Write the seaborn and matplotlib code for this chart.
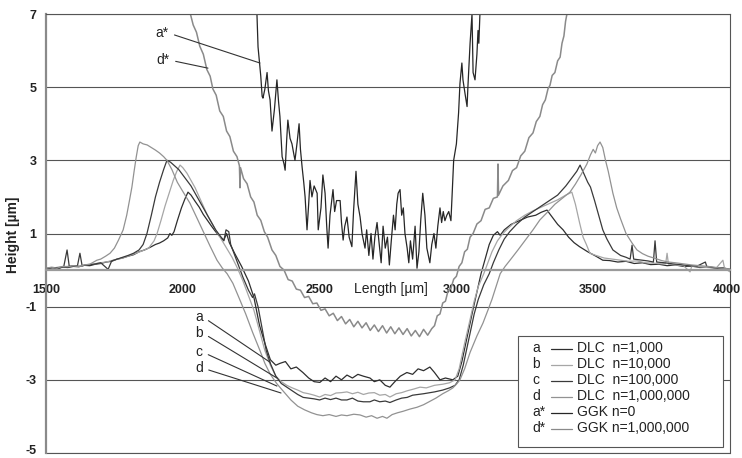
import matplotlib
matplotlib.use("Agg")
import matplotlib.pyplot as plt
import matplotlib.transforms as mtransforms
from matplotlib.patches import Rectangle
import seaborn as sns

# ---------------------------------------------------------------- data
x_ticks = [1500, 2000, 2500, 3000, 3500, 4000]
y_ticks = [-5, -3, -1, 1, 3, 5, 7]

# DLC n=1,000
dlc_a_x = [1500, 1520, 1540, 1560, 1580, 1600, 1620, 1640, 1660, 1680, 1700, 1720, 1740, 1760,
           1780, 1800, 1820, 1840, 1860, 1880, 1900, 1915, 1930, 1945, 1953, 1960, 1968, 1980,
           1995, 2008, 2019, 2030, 2045, 2060, 2075, 2090, 2105, 2120, 2135, 2150, 2160, 2170,
           2190, 2215, 2240, 2260, 2280, 2300, 2320, 2340, 2355, 2375, 2395, 2415, 2439, 2460,
           2480, 2501, 2520, 2540, 2560, 2580, 2600, 2620, 2640, 2660, 2684, 2700, 2720, 2740,
           2757, 2775, 2795, 2819, 2840, 2860, 2880, 2903, 2920, 2940, 2960, 2987, 3005, 3020,
           3040, 3060, 3075, 3090, 3105, 3120, 3135, 3150, 3160, 3175, 3200, 3230, 3260, 3290,
           3310, 3331, 3350, 3370, 3390, 3410, 3430, 3450, 3480, 3510, 3535, 3560, 3590, 3620,
           3650, 3680, 3710, 3740, 3770, 3800, 3830, 3860, 3890, 3920, 3950, 3975, 4000]
dlc_a_y = [0.04, 0.06, 0.03, 0.08, 0.07, 0.10, 0.09, 0.13, 0.12, 0.16, 0.18, 0.22, 0.24, 0.30,
           0.33, 0.38, 0.42, 0.50, 0.55, 0.62, 0.70, 0.74, 0.80, 0.88, 1.00, 0.95, 1.05, 1.35,
           1.70, 1.95, 2.13, 2.05, 1.88, 1.72, 1.52, 1.36, 1.20, 1.05, 0.92, 0.82, 1.00, 0.75,
           0.45, 0.10, -0.30, -0.75, -1.50, -2.00, -2.45, -2.60, -2.55, -2.50, -2.70, -2.65, -2.80, -2.95,
           -3.05, -3.07, -2.95, -3.05, -2.90, -3.00, -2.87, -2.95, -2.85, -2.90, -2.95, -3.05, -3.00, -3.15,
           -3.20, -3.05, -2.90, -2.80, -2.85, -2.70, -2.75, -2.65, -2.80, -3.00, -2.95, -3.00, -2.90, -2.50,
           -1.80, -1.10, -0.60, -0.10, 0.30, 0.70, 0.95, 1.05, 0.95, 1.10, 1.25, 1.35, 1.45, 1.50,
           1.58, 1.64, 1.45, 1.25, 1.10, 0.90, 0.75, 0.64, 0.50, 0.38, 0.27, 0.26, 0.22, 0.24,
           0.18, 0.20, 0.15, 0.16, 0.12, 0.14, 0.10, 0.11, 0.07, 0.08, 0.05, 0.06, 0.02]

# DLC n=10,000
dlc_b_x = [1500, 1525, 1550, 1577, 1600, 1625, 1650, 1675, 1700, 1725, 1750, 1775, 1800, 1825,
           1850, 1875, 1895, 1906, 1920, 1935, 1950, 1965, 1978, 1990, 2000, 2015, 2030, 2045,
           2060, 2075, 2090, 2105, 2120, 2140, 2160, 2180, 2200, 2220, 2240, 2260, 2280, 2300,
           2320, 2340, 2360, 2380, 2400, 2420, 2440, 2460, 2480, 2500, 2520, 2540, 2560, 2580,
           2600, 2620, 2640, 2660, 2680, 2700, 2720, 2740, 2757, 2780, 2800, 2820, 2845, 2867,
           2890, 2920, 2950, 2975, 2995, 3010, 3030, 3050, 3065, 3080, 3100, 3115, 3130, 3150,
           3170, 3190, 3220, 3250, 3280, 3310, 3340, 3370, 3400, 3422, 3435, 3450, 3463, 3475,
           3488, 3510, 3540, 3570, 3600, 3630, 3660, 3690, 3720, 3750, 3765, 3770, 3775, 3800,
           3830, 3854, 3860, 3890, 3920, 3950, 3974, 3980, 4000]
dlc_b_y = [0.06, 0.05, 0.09, 0.10, 0.12, 0.11, 0.15, 0.17, 0.20, 0.23, 0.28, 0.32, 0.38, 0.45,
           0.52, 0.60, 0.80, 1.00, 1.35, 1.75, 2.10, 2.45, 2.70, 2.87, 2.80, 2.65, 2.45, 2.25,
           2.00, 1.75, 1.50, 1.30, 1.10, 0.85, 0.60, 0.35, 0.05, -0.30, -0.70, -1.10, -1.65, -2.20,
           -2.60, -2.90, -3.05, -3.15, -3.22, -3.28, -3.35, -3.38, -3.42, -3.47, -3.40, -3.43, -3.36, -3.35,
           -3.33, -3.38, -3.34, -3.40, -3.36, -3.35, -3.42, -3.40, -3.47, -3.38, -3.35, -3.30, -3.25, -3.20,
           -3.22, -3.15, -3.12, -3.08, -3.00, -2.70, -2.00, -1.35, -0.85, -0.45, -0.10, 0.20, 0.50, 0.80,
           1.00, 1.15, 1.35, 1.50, 1.62, 1.72, 1.82, 1.92, 2.05, 2.13, 1.80, 1.30, 0.90, 0.70,
           0.46, 0.40, 0.33, 0.30, 0.27, 0.24, 0.25, 0.20, 0.19, 0.17, 0.18, 0.46, 0.16, 0.14,
           0.12, -0.05, 0.10, 0.09, 0.07, 0.06, 0.27, 0.05, -0.05]

# DLC n=100,000
dlc_c_x = [1500, 1525, 1550, 1565, 1577, 1585, 1600, 1615, 1624, 1632, 1650, 1675, 1700, 1727,
           1740, 1760, 1780, 1800, 1820, 1840, 1855, 1869, 1885, 1900, 1915, 1930, 1942, 1955,
           1970, 1985, 2000, 2015, 2030, 2045, 2060, 2075, 2090, 2105, 2120, 2135, 2150, 2158,
           2168, 2175, 2190, 2205, 2220, 2240, 2255, 2262, 2275, 2290, 2305, 2320, 2340, 2360,
           2380, 2400, 2420, 2440, 2460, 2480, 2500, 2520, 2540, 2560, 2580, 2600, 2620, 2640,
           2660, 2684, 2700, 2720, 2740, 2757, 2780, 2800, 2820, 2840, 2860, 2880, 2903, 2920,
           2950, 2975, 2995, 3010, 3025, 3045, 3065, 3080, 3100, 3120, 3135, 3155, 3175, 3195,
           3220, 3250, 3280, 3310, 3340, 3370, 3400, 3420, 3440, 3452, 3465, 3480, 3490, 3505,
           3520, 3535, 3550, 3572, 3600, 3620, 3635, 3642, 3648, 3670, 3700, 3720, 3726, 3732,
           3760, 3790, 3820, 3850, 3880, 3910, 3915, 3940, 3970, 4000]
dlc_c_y = [0.03, 0.07, 0.06, 0.10, 0.55, 0.10, 0.11, 0.12, 0.46, 0.12, 0.14, 0.16, 0.20, 0.02,
           0.25, 0.30, 0.35, 0.40, 0.46, 0.55, 0.70, 1.00, 1.50, 2.00, 2.40, 2.75, 3.00, 2.95,
           2.85, 2.75, 2.60, 2.45, 2.30, 2.10, 1.90, 1.70, 1.50, 1.30, 1.10, 0.95, 0.80, 1.10,
           1.05, 0.70, 0.40, 0.10, -0.20, -0.55, -0.75, -0.65, -1.00, -1.60, -2.20, -2.55, -2.90, -3.10,
           -3.20, -3.30, -3.40, -3.48, -3.50, -3.52, -3.55, -3.50, -3.54, -3.50, -3.55, -3.55, -3.50, -3.58,
           -3.60, -3.60, -3.55, -3.60, -3.58, -3.62, -3.55, -3.50, -3.48, -3.42, -3.40, -3.38, -3.35, -3.33,
           -3.28, -3.22, -3.15, -3.00, -2.60, -1.90, -1.20, -0.80, -0.40, -0.10, 0.20, 0.55, 0.85, 1.05,
           1.25, 1.45, 1.60, 1.75, 1.90, 2.05, 2.30, 2.50, 2.70, 2.87, 2.65, 2.40, 2.27, 1.90,
           1.50, 1.10, 0.85, 0.55, 0.40, 0.35, 0.30, 0.68, 0.30, 0.28, 0.25, 0.22, 0.80, 0.22,
           0.20, 0.17, 0.15, 0.12, 0.11, 0.22, 0.10, 0.07, 0.06, 0.00]

# DLC n=1,000,000
dlc_d_x = [1500, 1520, 1540, 1560, 1580, 1600, 1620, 1640, 1660, 1686, 1700, 1718, 1734, 1750,
           1765, 1782, 1795, 1805, 1814, 1822, 1830, 1837, 1843, 1855, 1870, 1885, 1900, 1915,
           1930, 1942, 1960, 1980, 2000, 2026, 2050, 2075, 2100, 2125, 2145, 2162, 2183, 2205,
           2230, 2255, 2282, 2300, 2320, 2343, 2366, 2395, 2420, 2445, 2470, 2490, 2512, 2535,
           2560, 2580, 2600, 2625, 2648, 2670, 2690, 2710, 2730, 2746, 2765, 2785, 2805, 2830,
           2856, 2880, 2900, 2925, 2950, 2970, 2987, 3000, 3013, 3030, 3050, 3075, 3097, 3115,
           3130, 3145, 3160, 3178, 3196, 3225, 3250, 3280, 3305, 3335, 3360, 3390, 3415, 3435,
           3455, 3477, 3490, 3500, 3508, 3516, 3525, 3535, 3545, 3555, 3572, 3586, 3600, 3620,
           3642, 3660, 3680, 3700, 3726, 3750, 3775, 3800, 3830, 3860, 3890, 3920, 3950, 3975, 4000]
dlc_d_y = [0.05, 0.08, 0.05, 0.10, 0.09, 0.12, 0.10, 0.14, 0.16, 0.27, 0.30, 0.38, 0.46, 0.60,
           0.82, 1.10, 1.50, 1.90, 2.27, 2.70, 3.10, 3.40, 3.50, 3.45, 3.42, 3.35, 3.28, 3.20,
           3.10, 3.00, 2.75, 2.40, 2.15, 1.83, 1.45, 1.05, 0.65, 0.27, 0.05, -0.10, -0.36, -0.75,
           -1.20, -1.70, -2.20, -2.55, -2.85, -3.10, -3.30, -3.55, -3.72, -3.82, -3.90, -3.95, -3.98, -3.95,
           -4.00, -3.96, -3.98, -3.94, -3.96, -4.02, -3.98, -4.05, -4.00, -4.05, -3.95, -3.90, -3.86, -3.80,
           -3.75, -3.68, -3.60, -3.50, -3.38, -3.30, -3.22, -3.12, -3.00, -2.70, -2.25, -1.80, -1.45, -1.10,
           -0.80, -0.45, -0.10, 0.10, 0.27, 0.55, 0.80, 1.10, 1.37, 1.60, 1.80, 1.98, 2.13, 2.35,
           2.60, 2.90, 3.15, 3.30, 3.20, 3.40, 3.50, 3.35, 3.00, 2.70, 2.10, 1.70, 1.40, 1.00,
           0.74, 0.55, 0.45, 0.38, 0.32, 0.26, 0.22, 0.20, 0.17, 0.14, 0.12, 0.10, 0.07, 0.05, 0.03]

# GGK n=0
ggk_a_x = [2266, 2271, 2275, 2280, 2285, 2290, 2293, 2300, 2308, 2313, 2319, 2326, 2335, 2344,
           2350, 2355, 2363, 2370, 2374, 2380, 2384, 2392, 2399, 2405, 2410, 2418, 2425, 2430,
           2436, 2442, 2447, 2454, 2460, 2465, 2472, 2480, 2491, 2495, 2505, 2512, 2520, 2526,
           2531, 2538, 2549, 2555, 2562, 2575, 2580, 2586, 2592, 2600, 2608, 2618, 2624, 2633,
           2640, 2648, 2655, 2666, 2672, 2680, 2688, 2695, 2702, 2710, 2718, 2725, 2732, 2740,
           2748, 2755, 2762, 2770, 2776, 2782, 2787, 2794, 2800, 2806, 2812, 2820, 2826, 2832,
           2840, 2849, 2856, 2863, 2870, 2877, 2885, 2892, 2903, 2910, 2918, 2925, 2932, 2940,
           2946, 2952, 2958, 2965, 2972, 2980, 2984, 2990, 3000, 3008, 3013, 3020, 3024, 3032,
           3039, 3042, 3050, 3057, 3061, 3068, 3075, 3079, 3082, 3086, 3090]
ggk_a_y = [7.60, 7.00, 6.10, 5.70, 5.30, 4.75, 4.70, 4.95, 5.40, 4.90, 4.65, 3.80, 4.40, 5.20,
           4.60, 4.20, 3.10, 2.90, 2.73, 3.60, 4.10, 3.60, 3.45, 3.20, 3.00, 3.50, 4.00, 3.30,
           2.82, 2.40, 2.00, 1.10, 1.80, 2.45, 2.00, 2.30, 2.10, 1.10, 1.70, 2.60, 2.10, 1.20,
           0.60, 1.50, 2.20, 1.60, 1.90, 1.90, 1.30, 0.82, 1.20, 1.45, 0.90, 0.64, 1.60, 2.70,
           1.80, 1.45, 1.00, 0.60, 1.10, 0.40, 1.00, 0.30, 0.90, 1.30, 0.70, 0.20, 1.20, 0.60,
           0.90, 0.14, 0.80, 1.50, 1.10, 1.80, 2.10, 2.20, 1.50, 1.70, 1.00, 0.60, 0.20, 0.80,
           0.30, 1.20, 0.05, 0.50, 1.40, 2.10, 1.50, 0.60, 0.20, 0.70, 1.00, 0.60, 1.20, 1.70,
           1.30, 1.60, 1.35, 1.50, 1.60, 1.35, 2.00, 3.00, 3.45, 4.30, 5.10, 5.66, 5.20, 4.80,
           4.47, 5.00, 6.20, 7.00, 5.40, 5.20, 5.90, 6.55, 6.20, 7.00, 7.60]

# GGK n=1,000,000
ggk_d_x = [2000, 2015, 2026, 2038, 2050, 2062, 2075, 2088, 2100, 2110, 2122, 2135, 2148, 2160,
           2172, 2185, 2198, 2207, 2209, 2211, 2222, 2235, 2248, 2260, 2272, 2285, 2298, 2310,
           2326, 2340, 2355, 2370, 2385, 2400, 2415, 2430, 2445, 2460, 2475, 2490, 2505, 2520,
           2535, 2550, 2565, 2580, 2595, 2610, 2625, 2640, 2655, 2670, 2685, 2700, 2715, 2730,
           2745, 2760, 2775, 2790, 2805, 2820, 2835, 2850, 2865, 2880, 2895, 2910, 2920, 2930,
           2940, 2950, 2960, 2970, 2980, 2990, 3000, 3010, 3020, 3030, 3040, 3050, 3061, 3075,
           3090, 3105, 3120, 3135, 3150, 3152, 3154, 3170, 3190, 3205, 3220, 3235, 3250, 3265,
           3280, 3292, 3305, 3315, 3325, 3335, 3342, 3350, 3360, 3370, 3379, 3386, 3393, 3399,
           3404, 3412]
ggk_d_y = [7.80, 7.30, 7.05, 6.70, 6.50, 6.12, 5.90, 5.48, 5.30, 4.95, 4.78, 4.35, 4.20, 3.80,
           3.65, 3.25, 3.10, 2.85, 2.25, 2.80, 2.50, 2.36, 2.00, 1.86, 1.50, 1.36, 1.05, 0.90,
           0.55, 0.40, 0.10, 0.00, -0.26, -0.30, -0.52, -0.55, -0.75, -0.72, -0.92, -0.90, -1.10, -1.06,
           -1.25, -1.18, -1.38, -1.27, -1.47, -1.35, -1.55, -1.40, -1.58, -1.44, -1.65, -1.50, -1.68, -1.52,
           -1.72, -1.55, -1.74, -1.58, -1.76, -1.60, -1.80, -1.65, -1.82, -1.62, -1.78, -1.60, -1.52, -1.25,
           -1.20, -0.90, -0.85, -0.55, -0.50, -0.25, -0.17, 0.10, 0.20, 0.50, 0.57, 0.90, 1.00, 1.26,
           1.35, 1.66, 1.70, 1.96, 2.00, 2.90, 2.05, 2.30, 2.45, 2.72, 2.80, 3.12, 3.25, 3.62,
           3.75, 4.06, 4.20, 4.52, 4.65, 4.96, 5.05, 5.32, 5.40, 5.72, 5.82, 6.20, 6.40, 6.80,
           7.00, 7.40]

series_keys = ["a", "b", "c", "d", "a*", "d*"]
series_labels = ["DLC  n=1,000", "DLC  n=10,000", "DLC  n=100,000", "DLC  n=1,000,000",
                 "GGK n=0", "GGK n=1,000,000"]
series_x = [dlc_a_x, dlc_b_x, dlc_c_x, dlc_d_x, ggk_a_x, ggk_d_x]
series_y = [dlc_a_y, dlc_b_y, dlc_c_y, dlc_d_y, ggk_a_y, ggk_d_y]
series_colors = ["#2e2e2e", "#a6a6a6", "#3a3a3a", "#929292", "#262626", "#8a8a8a"]
series_widths = [0.9, 0.9, 0.9, 0.9, 0.9, 1.1]

# ---------------------------------------------------------------- style
sns.set_theme(style="white")
plt.rcParams["font.family"] = ["Liberation Sans", "DejaVu Sans"]
plt.rcParams["font.weight"] = "bold"          # axis numbers are bold
plt.rcParams["axes.unicode_minus"] = False
text_color = "#222222"
tick_size = 9

fig = plt.figure(figsize=(7.42, 4.58), dpi=100)
ax = fig.add_axes([46 / 742, 1 - 453 / 458, 684 / 742, 439 / 458])

for xs, ys, col, w in zip(series_x, series_y, series_colors, series_widths):
    sns.lineplot(x=xs, y=ys, ax=ax, color=col, lw=w, estimator=None,
                 sort=False, legend=False)

ax.set_xlim(x_ticks[0], x_ticks[-1])
ax.set_ylim(y_ticks[0], y_ticks[-1])
ax.set_xlabel("")
ax.set_ylabel("")
ax.set_xticks(x_ticks)
ax.set_yticks(y_ticks)
# the last x label is drawn separately so it can sit flush with the canvas edge
ax.set_xticklabels([str(t) for t in x_ticks[:-1]] + [""])
ax.set_yticklabels([str(t) for t in y_ticks])
ax.tick_params(axis="x", direction="out", length=3, width=0.8, color="#888888", pad=7,
               labelsize=tick_size, labelcolor=text_color)
ax.tick_params(axis="y", length=0, pad=7, labelsize=tick_size, labelcolor=text_color)

fig.text(741 / 742, 1 - 290 / 458, str(x_ticks[-1]), ha="right", va="center",
         fontsize=tick_size, fontweight="bold", color=text_color)

shift_up = mtransforms.ScaledTranslation(0, 3 / 100, fig.dpi_scale_trans)
first_y = ax.get_yticklabels()[0]
first_y.set_transform(first_y.get_transform() + shift_up)

ax.grid(axis="y", color="#555555", lw=0.8)
ax.grid(axis="x", visible=False)

ax.spines["bottom"].set_position(("data", 0))
ax.spines["bottom"].set_color("#9a9a9a")
ax.spines["bottom"].set_linewidth(1.6)
ax.spines["left"].set_color("#8a8a8a")
ax.spines["left"].set_linewidth(1.6)
for side in ("top", "right"):
    ax.spines[side].set_color("#555555")
    ax.spines[side].set_linewidth(0.8)
ax.axhline(y_ticks[0], color="#555555", lw=0.8, clip_on=False)

# axis titles
blend = mtransforms.blended_transform_factory(ax.transAxes, ax.transData)
ax.text(0.505, -0.52, "Length [µm]", transform=blend, ha="center", va="center",
        fontsize=10, fontweight="normal", color=text_color)
fig.text(13 / 742, 1 - 235 / 458, "Height [µm]", rotation=90, ha="center", va="center",
         fontsize=10, fontweight="bold", color=text_color)

# curve labels with leader lines
leader = dict(arrowstyle="-", color="#333333", lw=0.8, relpos=(1.0, 0.5), shrinkA=2, shrinkB=0)
ax.annotate("a*", xy=(2282, 5.66), xytext=(1924, 6.48), ha="center", va="center",
            fontsize=10, fontweight="normal", color=text_color, arrowprops=leader)
ax.annotate("d*", xy=(2092, 5.52), xytext=(1928, 5.74), ha="center", va="center",
            fontsize=10, fontweight="normal", color=text_color, arrowprops=leader)
for key, tip, ypos in zip(series_keys[:4],
                          [(2319, -2.52), (2344, -2.95), (2344, -3.17), (2359, -3.36)],
                          [-1.28, -1.72, -2.24, -2.68]):
    ax.annotate(key, xy=tip, xytext=(2059, ypos), ha="center", va="center",
                fontsize=10, fontweight="normal", color=text_color, arrowprops=leader)

# legend box
ax.add_patch(Rectangle((0.690, 0.0137), 0.300, 0.253, transform=ax.transAxes,
                       facecolor="white", edgecolor="#555555", lw=0.8, zorder=5))
for i, (key, lab, col) in enumerate(zip(series_keys, series_labels, series_colors)):
    yf = (453 - (348.5 + 16.0 * i)) / 439
    ax.text(0.7105, yf, key, transform=ax.transAxes, ha="left", va="center",
            fontsize=10, fontweight="normal", color=text_color, zorder=6)
    ax.plot([0.7383, 0.7690], [yf, yf], transform=ax.transAxes, color=col, lw=0.9, zorder=6)
    ax.text(0.7763, yf, lab, transform=ax.transAxes, ha="left", va="center",
            fontsize=10, fontweight="normal", color=text_color, zorder=6)

fig.savefig("out.png", dpi=100)
